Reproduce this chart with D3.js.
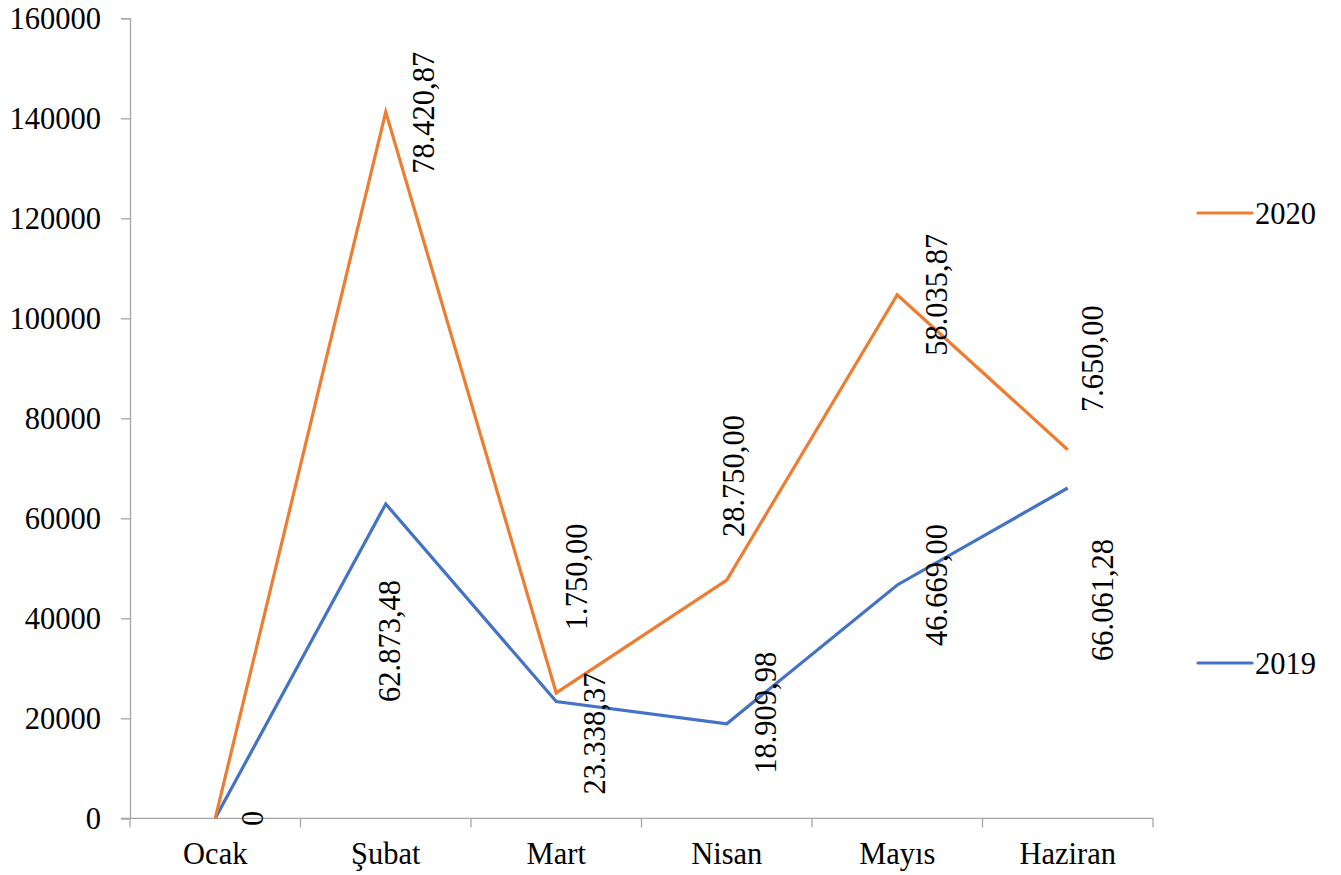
<!DOCTYPE html>
<html>
<head>
<meta charset="utf-8">
<script src="https://cdn.jsdelivr.net/npm/d3@7"></script>
<style>
  html, body { margin: 0; padding: 0; background: #fff; }
  svg { display: block; }
</style>
</head>
<body>
<svg id="chart" width="1341" height="875" font-family="Liberation Serif"></svg>
<script>
// ---- data ----
const months = ["Ocak", "Şubat", "Mart", "Nisan", "Mayıs", "Haziran"];
const values2019 = [0, 62873.48, 23338.37, 18909.98, 46669.00, 66061.28];
const values2020 = [0, 78420.87, 1750.00, 28750.00, 58035.87, 7650.00];
const seriesNames = ["2019", "2020"];
const yTicks = [0, 20000, 40000, 60000, 80000, 100000, 120000, 140000, 160000];

// ---- layout / style (label placement offsets in px relative to point) ----
const labelOffsets2019 = [[38, 0], [4, 137], [39, 32], [39, -11], [40, 0], [35, 112]];
const labelOffsets2020 = [null, [38, 1], [21, -116], [7, -104], [40, 0], [25, -91]];
const colors = { "2019": "#4472C4", "2020": "#ED7D31" };
const axisColor = "#a6a6a6";
const FONT = "Liberation Serif";
const fontSize = 30.5;

const svg = d3.select("#chart");
const plot = { left: 130, right: 1153, top: 18.3, bottom: 818.3 };

const x = d3.scaleBand().domain(months).range([plot.left, plot.right]).paddingInner(0).paddingOuter(0);
const y = d3.scaleLinear().domain([0, 160000]).range([plot.bottom, plot.top]);
const cx = m => x(m) + x.bandwidth() / 2;

// stacked data
const rows = months.map((m, i) => ({ month: m, "2019": values2019[i], "2020": values2020[i] }));
const stacked = d3.stack().keys(seriesNames)(rows);

// y axis
const yAxis = d3.axisLeft(y).tickValues(yTicks).tickFormat(d3.format("d")).tickSize(9).tickPadding(20);
const gy = svg.append("g").attr("transform", `translate(${plot.left},0)`).call(yAxis)
  .attr("font-family", FONT).attr("font-size", fontSize);
gy.select(".domain").attr("stroke", axisColor).attr("stroke-width", 1.3);
gy.selectAll(".tick line").attr("stroke", axisColor).attr("stroke-width", 1.3);
gy.selectAll(".tick text").attr("fill", "#000").attr("font-family", FONT).attr("font-size", fontSize);

// x axis: ticks at band boundaries
const xAxisG = svg.append("g").attr("transform", `translate(0,${plot.bottom})`);
xAxisG.append("line").attr("x1", plot.left - 9).attr("x2", plot.right).attr("y1", 0).attr("y2", 0)
  .attr("stroke", axisColor).attr("stroke-width", 1.3);
const boundaries = months.map(m => x(m)).concat([x(months[months.length - 1]) + x.bandwidth()]);
xAxisG.selectAll("line.tk").data(boundaries).join("line").attr("class", "tk")
  .attr("x1", d => d).attr("x2", d => d).attr("y1", 0).attr("y2", 9)
  .attr("stroke", axisColor).attr("stroke-width", 1.3);
xAxisG.selectAll("text").data(months).join("text")
  .attr("x", d => cx(d)).attr("y", 46).attr("text-anchor", "middle")
  .attr("font-family", FONT).attr("font-size", fontSize).attr("fill", "#000").text(d => d);

// lines
const line = d3.line().x(d => cx(d.data.month)).y(d => y(d[1]));
stacked.forEach(s => {
  svg.append("path").datum(s).attr("d", line).attr("fill", "none")
    .attr("stroke", colors[s.key]).attr("stroke-width", 3.2).attr("stroke-linejoin", "miter");
});

// data labels (Turkish number format)
const trLocale = d3.formatLocale({ decimal: ",", thousands: ".", grouping: [3], currency: ["", ""] });
const fmt = v => v === 0 ? "0" : trLocale.format(",.2f")(v);
const offsets = { "2019": labelOffsets2019, "2020": labelOffsets2020 };
const raw = { "2019": values2019, "2020": values2020 };
stacked.forEach(s => {
  s.forEach((d, i) => {
    const off = offsets[s.key][i];
    if (!off) return;
    const px = cx(d.data.month) + off[0];
    const py = y(d[1]) + off[1];
    svg.append("text")
      .attr("transform", `translate(${px},${py}) rotate(-90)`)
      .attr("text-anchor", "middle").attr("dominant-baseline", "central")
      .attr("font-family", FONT).attr("font-size", fontSize).attr("fill", "#000")
      .text(fmt(raw[s.key][i]));
  });
});

// legend
const legendItems = [{ key: "2020", y: 213 }, { key: "2019", y: 663 }];
const lg = svg.append("g");
legendItems.forEach(it => {
  lg.append("line").attr("x1", 1198).attr("x2", 1252).attr("y1", it.y).attr("y2", it.y)
    .attr("stroke", colors[it.key]).attr("stroke-width", 3.2).attr("stroke-linecap", "round");
  lg.append("text").attr("x", 1255).attr("y", it.y + 10.5)
    .attr("font-family", FONT).attr("font-size", fontSize).attr("fill", "#000").text(it.key);
});
</script>
</body>
</html>
